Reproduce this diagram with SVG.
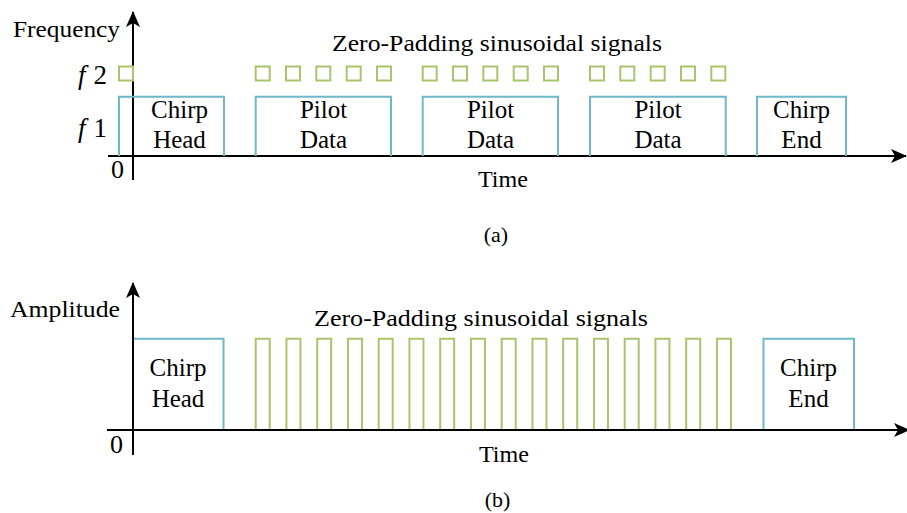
<svg xmlns="http://www.w3.org/2000/svg" width="907" height="513" viewBox="0 0 907 513">
  <defs>
    <marker id="arrow" viewBox="0 0 16 14" refX="15" refY="7" markerWidth="16" markerHeight="14" markerUnits="userSpaceOnUse" orient="auto">
      <path d="M0,0 L16,7 L0,14 L4,7 Z" fill="#000"/>
    </marker>
    <style>
      .axis { stroke: #000; stroke-width: 2; fill: none; }
      .chirp { stroke: #6fb8c9; stroke-width: 2; fill: none; }
      .pad { stroke: #a8c56d; stroke-width: 2; fill: none; }
      text { font-family: 'Liberation Serif', Tinos, 'Times New Roman', Times, serif; fill: #000; }
      .lbl { font-size: 25px; text-anchor: middle; }
      .ax { font-size: 23px; }
      .sym { font-size: 27px; }
      .zero { font-size: 26px; }
      .cap { font-size: 22px; text-anchor: middle; }
    </style>
  </defs>

  <!-- (a) frequency over time -->
  <g id="panel-a">
    <g id="axes-a">
      <line class="axis" x1="108" y1="156" x2="906" y2="156" marker-end="url(#arrow)"/>
      <line class="axis" x1="133" y1="180" x2="133" y2="12" marker-end="url(#arrow)"/>
    </g>
    <text class="ax" x="13" y="37" textLength="107" lengthAdjust="spacingAndGlyphs">Frequency</text>
    <text class="sym" x="78" y="84"><tspan font-style="italic">f</tspan><tspan dx="8">2</tspan></text>
    <text class="sym" x="78" y="137"><tspan font-style="italic">f</tspan><tspan dx="8">1</tspan></text>
    <text class="zero" x="111" y="178">0</text>
    <text class="ax" x="332" y="51" textLength="330" lengthAdjust="spacingAndGlyphs">Zero-Padding sinusoidal signals</text>
    <text class="ax" x="478" y="187" textLength="50" lengthAdjust="spacingAndGlyphs">Time</text>
    <text class="cap" x="496" y="242">(a)</text>

    <g id="pad-a">
      <rect class="pad" x="119" y="66.5" width="14" height="14"/>
      <rect class="pad" x="255.7" y="66.5" width="14" height="14"/>
      <rect class="pad" x="286" y="66.5" width="14" height="14"/>
      <rect class="pad" x="316.3" y="66.5" width="14" height="14"/>
      <rect class="pad" x="346.7" y="66.5" width="14" height="14"/>
      <rect class="pad" x="377" y="66.5" width="14" height="14"/>
      <rect class="pad" x="422.7" y="66.5" width="14" height="14"/>
      <rect class="pad" x="453" y="66.5" width="14" height="14"/>
      <rect class="pad" x="483.3" y="66.5" width="14" height="14"/>
      <rect class="pad" x="513.7" y="66.5" width="14" height="14"/>
      <rect class="pad" x="544" y="66.5" width="14" height="14"/>
      <rect class="pad" x="590" y="66.5" width="14" height="14"/>
      <rect class="pad" x="620.3" y="66.5" width="14" height="14"/>
      <rect class="pad" x="650.7" y="66.5" width="14" height="14"/>
      <rect class="pad" x="681" y="66.5" width="14" height="14"/>
      <rect class="pad" x="711.3" y="66.5" width="14" height="14"/>
    </g>

    <g id="a-chirp-head">
      <polyline class="chirp" points="119,156 119,96.7 224,96.7 224,156"/>
      <text class="lbl" x="179.5" y="118">Chirp</text>
      <text class="lbl" x="179.5" y="148">Head</text>
    </g>
    <g id="a-pilot-1">
      <polyline class="chirp" points="255.7,156 255.7,96.7 391,96.7 391,156"/>
      <text class="lbl" x="323.5" y="118">Pilot</text>
      <text class="lbl" x="323.5" y="148">Data</text>
    </g>
    <g id="a-pilot-2">
      <polyline class="chirp" points="422.7,156 422.7,96.7 558,96.7 558,156"/>
      <text class="lbl" x="490.5" y="118">Pilot</text>
      <text class="lbl" x="490.5" y="148">Data</text>
    </g>
    <g id="a-pilot-3">
      <polyline class="chirp" points="590,156 590,96.7 725.7,96.7 725.7,156"/>
      <text class="lbl" x="658" y="118">Pilot</text>
      <text class="lbl" x="658" y="148">Data</text>
    </g>
    <g id="a-chirp-end">
      <polyline class="chirp" points="757,156 757,96.7 846,96.7 846,156"/>
      <text class="lbl" x="801.5" y="118">Chirp</text>
      <text class="lbl" x="801.5" y="148">End</text>
    </g>
  </g>

  <!-- (b) amplitude over time -->
  <g id="panel-b">
    <g id="pad-b">
      <polyline class="pad" points="255.7,430 255.7,338.7 269.7,338.7 269.7,430"/>
      <polyline class="pad" points="286.45,430 286.45,338.7 300.45,338.7 300.45,430"/>
      <polyline class="pad" points="317.2,430 317.2,338.7 331.2,338.7 331.2,430"/>
      <polyline class="pad" points="347.95,430 347.95,338.7 361.95,338.7 361.95,430"/>
      <polyline class="pad" points="378.7,430 378.7,338.7 392.7,338.7 392.7,430"/>
      <polyline class="pad" points="409.45,430 409.45,338.7 423.45,338.7 423.45,430"/>
      <polyline class="pad" points="440.2,430 440.2,338.7 454.2,338.7 454.2,430"/>
      <polyline class="pad" points="470.95,430 470.95,338.7 484.95,338.7 484.95,430"/>
      <polyline class="pad" points="501.7,430 501.7,338.7 515.7,338.7 515.7,430"/>
      <polyline class="pad" points="532.45,430 532.45,338.7 546.45,338.7 546.45,430"/>
      <polyline class="pad" points="563.2,430 563.2,338.7 577.2,338.7 577.2,430"/>
      <polyline class="pad" points="593.95,430 593.95,338.7 607.95,338.7 607.95,430"/>
      <polyline class="pad" points="624.7,430 624.7,338.7 638.7,338.7 638.7,430"/>
      <polyline class="pad" points="655.45,430 655.45,338.7 669.45,338.7 669.45,430"/>
      <polyline class="pad" points="686.2,430 686.2,338.7 700.2,338.7 700.2,430"/>
      <polyline class="pad" points="716.95,430 716.95,338.7 730.95,338.7 730.95,430"/>
    </g>

    <g id="b-chirp-head">
      <polyline class="chirp" points="133,338.7 223.5,338.7 223.5,430"/>
      <text class="lbl" x="178" y="376">Chirp</text>
      <text class="lbl" x="178" y="407">Head</text>
    </g>
    <g id="b-chirp-end">
      <polyline class="chirp" points="763.5,430 763.5,338.7 854,338.7 854,430"/>
      <text class="lbl" x="808.5" y="376">Chirp</text>
      <text class="lbl" x="808.5" y="407">End</text>
    </g>

    <g id="axes-b">
      <line class="axis" x1="107" y1="430" x2="909" y2="430" marker-end="url(#arrow)"/>
      <line class="axis" x1="133" y1="455" x2="133" y2="283" marker-end="url(#arrow)"/>
    </g>
    <text class="ax" x="10" y="317" textLength="110" lengthAdjust="spacingAndGlyphs">Amplitude</text>
    <text class="zero" x="110" y="453">0</text>
    <text class="ax" x="314" y="326" textLength="334" lengthAdjust="spacingAndGlyphs">Zero-Padding sinusoidal signals</text>
    <text class="ax" x="479" y="462" textLength="50" lengthAdjust="spacingAndGlyphs">Time</text>
    <text class="cap" x="497.5" y="507">(b)</text>
  </g>
</svg>
